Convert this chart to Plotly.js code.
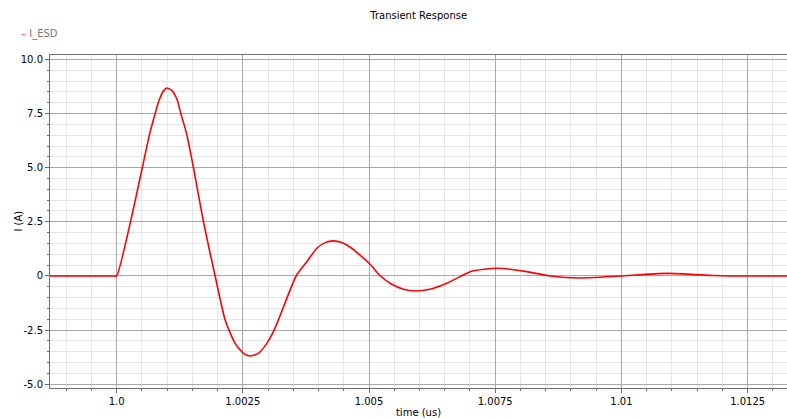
<!DOCTYPE html>
<html>
<head>
<meta charset="utf-8">
<script src="https://cdn.plot.ly/plotly-3.0.1.min.js"></script>
<style>html,body{margin:0;padding:0;background:#fff;}#chart{width:787px;height:418px;}</style>
</head>
<body>
<div id="chart"></div>
<script>
// time (us)
const timeUs = [0.99868, 0.99995, 1.0, 1.000664, 1.000763, 1.000829, 1.000895, 1.000941, 1.000994, 1.00104, 1.001093,
  1.001193, 1.001272, 1.001377, 1.001522, 1.00172, 1.001951, 1.00215, 1.002347, 1.002512, 1.002645,
  1.002809, 1.002975, 1.003106, 1.003205, 1.003556, 1.003768, 1.003966, 1.00413, 1.004295, 1.004461,
  1.004659, 1.004857, 1.005022, 1.00522, 1.005452, 1.005681, 1.005913, 1.00621, 1.006541, 1.006805,
  1.007003, 1.00728, 1.007563, 1.007834, 1.008126, 1.008588, 1.009182, 1.009975, 1.0109, 1.01182,
  1.01216, 1.01328];
// I_ESD (A)
const iESD = [0, 0, 0, 6.65, 7.49, 8.03, 8.41, 8.58, 8.68, 8.64, 8.57,
  8.18, 7.49, 6.65, 5.0, 2.5, 0, -2.03, -3.11, -3.57, -3.69,
  -3.57, -3.11, -2.57, -2.03, 0, 0.66, 1.28, 1.54, 1.62, 1.54,
  1.28, 0.89, 0.54, 0.01, -0.38, -0.61, -0.69, -0.61, -0.34, -0.03,
  0.2, 0.31, 0.355, 0.3, 0.2, 0, -0.09, 0, 0.12, 0.02,
  0, 0];

const xTickVals = [1.0, 1.0025, 1.005, 1.0075, 1.01, 1.0125];
const xTickText = ['1.0', '1.0025', '1.005', '1.0075', '1.01', '1.0125'];
const yTickVals = [10, 7.5, 5, 2.5, 0, -2.5, -5];
const yTickText = ['10.0', '7.5', '5.0', '2.5', '0', '-2.5', '-5.0'];

const FONT = 'DejaVu Sans, sans-serif';

const trace = {
  x: timeUs, y: iESD, type: 'scatter', mode: 'lines', name: 'I_ESD',
  line: {color: '#ff0000', width: 1.6, shape: 'spline', smoothing: 0.6},
  showlegend: false
};

const axisCommon = {
  showline: true, linecolor: '#6e6e6e', linewidth: 1, mirror: true,
  ticks: 'outside', ticklen: 4, tickcolor: '#6e6e6e', tickwidth: 1,
  showgrid: true, gridcolor: '#a8a8a8', gridwidth: 1,
  zeroline: false, tickfont: {family: FONT, size: 10, color: '#000'}
};

const layout = {
  width: 787, height: 418,
  margin: {l: 50, r: 0, t: 55, b: 30},
  paper_bgcolor: '#fff', plot_bgcolor: '#fff',
  font: {family: FONT, size: 10, color: '#000'},
  title: {text: 'Transient Response', font: {family: FONT, size: 10, color: '#000'},
          x: 0.532, xanchor: 'center', y: 0.962, yanchor: 'middle'},
  showlegend: false,
  annotations: [{
    text: '<span style="color:#ff4040">–</span> I_ESD',
    xref: 'paper', yref: 'paper', x: -0.042, y: 1.0, xanchor: 'left', yanchor: 'bottom',
    yshift: 13, showarrow: false, font: {family: FONT, size: 10, color: '#7a7a7a'}
  }, {
    text: 'I (A)', textangle: -90,
    xref: 'paper', yref: 'paper', x: -0.0434, y: 0.5, xanchor: 'center', yanchor: 'middle',
    showarrow: false, font: {family: FONT, size: 10, color: '#000'}
  }],
  xaxis: Object.assign({}, axisCommon, {
    range: [0.99868, 1.01328],
    tickmode: 'array', tickvals: xTickVals, ticktext: xTickText,
    minor: {dtick: 0.0005, tick0: 1.0, showgrid: true, gridcolor: '#e6e6e6', gridwidth: 1,
            ticks: 'outside', ticklen: 2, tickcolor: '#6e6e6e'},
    title: {text: 'time (us)', font: {family: FONT, size: 10, color: '#000'}, standoff: 2}
  }),
  yaxis: Object.assign({}, axisCommon, {
    range: [-5.17, 10.2],
    tickmode: 'array', tickvals: yTickVals, ticktext: yTickText,
    minor: {dtick: 0.5, tick0: 0, showgrid: true, gridcolor: '#e6e6e6', gridwidth: 1,
            ticks: 'outside', ticklen: 2, tickcolor: '#6e6e6e'}
  })
};

Plotly.newPlot('chart', [trace], layout, {displayModeBar: false, staticPlot: true});
</script>
</body>
</html>
